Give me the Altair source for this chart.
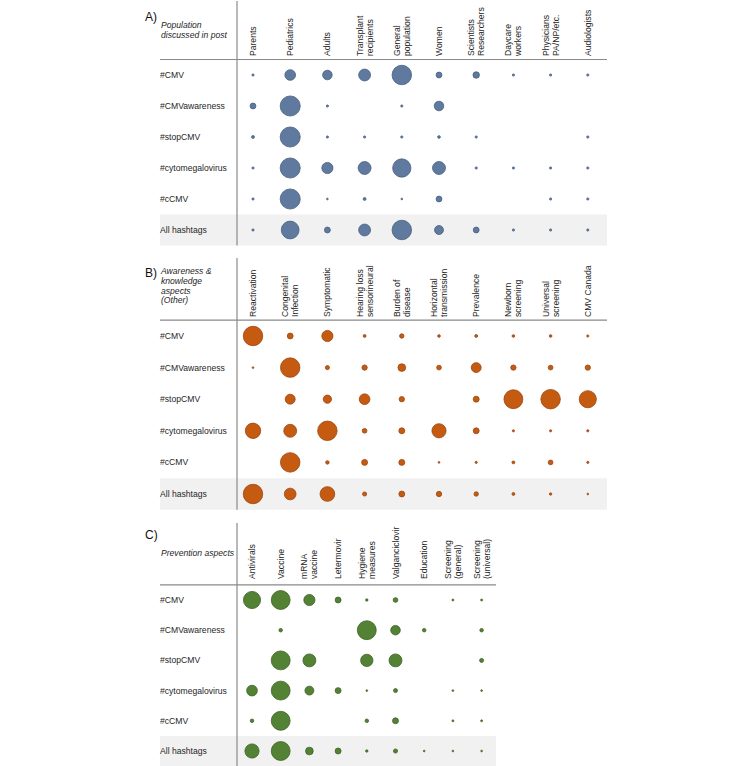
import altair as alt
import pandas as pd

# ---- data -------------------------------------------------------------
hashtags = ["#CMV", "#CMVawareness", "#stopCMV", "#cytomegalovirus", "#cCMV", "All hashtags"]

population_cols = ["Parents", "Pediatrics", "Adults", "Transplant\nrecipients",
                   "General\npopulation", "Women", "Scientists\nResearchers",
                   "Daycare\nworkers", "Physicians\nPA/NP/etc.", "Audiologists"]
population_vals = [
    [1.3, 30, 24, 37, 100, 9, 11, 1.3, 1.3, 1.3],
    [9, 106, 1.3, None, 1.3, 24, None, None, None, None],
    [2.2, 106, 1.3, 1.3, 1.3, 1.9, 1.3, None, None, 1.3],
    [1.3, 106, 33, 44, 88, 44, 1.3, 1.3, 1.3, 1.3],
    [1.3, 106, 0.8, 2.2, 0.8, 9, None, None, 1.3, 1.3],
    [1.3, 83, 9, 37, 100, 21, 9, 1.3, 1.3, 1.3],
]

awareness_cols = ["Reactivation", "Congenital\nInfection", "Symptomatic",
                  "Hearing loss\nsensorineural", "Burden of\ndisease",
                  "Horizontal\ntransmission", "Prevalence", "Newborn\nscreening",
                  "Universal\nscreening", "CMV Canada"]
awareness_vals = [
    [100, 9, 33, 2.2, 5.2, 1.9, 2.2, 1.9, 1.9, 1.3],
    [0.8, 100, 4.5, 7.4, 15.6, 5.9, 26, 7.4, 5.9, 7.4],
    [None, 26, 18, 30, 7.4, None, 9.3, 94, 100, 77],
    [62, 44, 100, 5.9, 9.3, 53, 9.3, 1.3, 1.3, 1.3],
    [None, 100, 3.3, 9.3, 9.3, 0.8, 1.3, 2.2, 5.9, 1.3],
    [100, 36, 57, 4.5, 9, 7.4, 5.2, 2.2, 1.5, 0.8],
]

prevention_cols = ["Antivirals", "Vaccine", "mRNA\nvaccine", "Letermovir",
                   "Hygiene\nmeasures", "Valganciclovir", "Education",
                   "Screening\n(general)", "Screening\n(universal)"]
prevention_vals = [
    [77, 94, 33, 9.3, 1.5, 5.9, None, 1, 1],
    [None, 3.3, None, None, 94, 24, 3.3, None, 3.3],
    [None, 94, 44, None, 40, 44, None, None, 4.2],
    [30, 94, 21, 9.3, 0.8, 4.2, None, 0.8, 0.8],
    [3.3, 94, None, None, 3.3, 9.3, None, 1, 1],
    [53, 94, 15.6, 9.3, 1.5, 4.5, 0.8, 0.8, 0.8],
]

# ---- styling ------------------------------------------------------------
FONT = "Liberation Sans"
TEXT = "#262626"
LINE = "#8a8a8a"
BAND = "#f1f1f1"
W = 470  # panel width
LH = 10  # line height of the rotated column headers


def panel(letter, title, cols, vals, fill, stroke, lay):
    cx0, cstep = lay["cx0"], lay["cstep"]
    row0, rstep, H = lay["row0"], lay["rstep"], lay["height"]
    right = lay["right"]

    xs = alt.Scale(domain=[-cx0 / cstep, (W - cx0) / cstep], nice=False, zero=False)
    ys = alt.Scale(domain=[-row0 / rstep, (H - row0) / rstep], nice=False,
                   zero=False, reverse=True)

    cells = pd.DataFrame([
        {"col": j, "row": i, "value": v}
        for i, rowvals in enumerate(vals)
        for j, v in enumerate(rowvals) if v is not None
    ])
    col_df = pd.DataFrame({"col": list(range(len(cols))), "label": cols,
                           "nlines": [c.count("\n") + 1 for c in cols]})
    row_df = pd.DataFrame({"row": list(range(len(hashtags))), "label": hashtags})
    band_df = pd.DataFrame({"y0": [len(hashtags) - 1.5], "y1": [len(hashtags) - 0.5]})
    hline_df = pd.DataFrame({"y": [-0.5]})

    band = alt.Chart(band_df).mark_rect(color=BAND).encode(
        x=alt.value(20), x2=alt.value(right),
        y=alt.Y("y0:Q", scale=ys, axis=None), y2="y1:Q")

    hline = alt.Chart(hline_df).mark_rule(color=LINE, strokeWidth=1.2).encode(
        x=alt.value(20), x2=alt.value(right),
        y=alt.Y("y:Q", scale=ys, axis=None))

    vline = alt.Chart(hline_df).mark_rule(color=LINE, strokeWidth=1.2).encode(
        x=alt.value(97), y=alt.value(lay["vtop"]),
        y2=alt.value(row0 + (len(hashtags) - 0.5) * rstep))

    bubbles = alt.Chart(cells).mark_circle(
        fill=fill, stroke=stroke, strokeWidth=0.8, opacity=1, fillOpacity=1
    ).encode(
        x=alt.X("col:Q", scale=xs, axis=None),
        y=alt.Y("row:Q", scale=ys, axis=None),
        size=alt.Size("value:Q", scale=alt.Scale(domain=[0, 100], range=[0, 380]),
                      legend=None),
    )

    # rotated column headers; two-line headers are shifted so the block is centred
    header_layers = []
    for n in (1, 2):
        header_layers.append(
            alt.Chart(col_df).transform_filter(alt.datum.nlines == n).mark_text(
                angle=270, align="left", baseline="middle", lineBreak="\n",
                lineHeight=LH, dy=-(n - 1) * LH / 2,
                font=FONT, fontSize=8.6, color=TEXT
            ).encode(
                x=alt.X("col:Q", scale=xs, axis=None),
                y=alt.value(lay["lab_bottom"]),
                text="label:N",
            )
        )

    row_labels = alt.Chart(row_df).mark_text(
        align="left", baseline="middle", font=FONT, fontSize=8.6, color=TEXT
    ).encode(
        x=alt.value(20),
        y=alt.Y("row:Q", scale=ys, axis=None),
        text="label:N",
    )

    letter_mark = alt.Chart(hline_df).mark_text(
        text=letter, align="left", baseline="middle", font=FONT, fontSize=12,
        color="#111111"
    ).encode(x=alt.value(5), y=alt.value(16))

    title_mark = alt.Chart(hline_df).mark_text(
        text=title, align="left", baseline="top", lineBreak="\n", lineHeight=9.8,
        font=FONT, fontSize=8.6, fontStyle="italic", color=TEXT
    ).encode(x=alt.value(21), y=alt.value(lay["title_top"]))

    return alt.layer(band, hline, vline, bubbles, *header_layers, row_labels,
                     letter_mark, title_mark).properties(width=W, height=H)


panel_a = panel("A)", "Population\ndiscussed in post", population_cols, population_vals,
                "#5f7a9e", "#48607f",
                dict(cx0=113, cstep=37.2, row0=74, rstep=31, height=250, vtop=0,
                     right=467, lab_bottom=55, title_top=20))
panel_b = panel("B)", "Awareness &\nknowledge\naspects\n(Other)", awareness_cols, awareness_vals,
                "#c55a11", "#9c4610",
                dict(cx0=113, cstep=37.2, row0=79, rstep=31.6, height=256, vtop=1,
                     right=467, lab_bottom=60, title_top=10))
panel_c = panel("C)", "Prevention aspects", prevention_cols, prevention_vals,
                "#548235", "#3e6326",
                dict(cx0=112, cstep=28.7, row0=81, rstep=30.2, height=248, vtop=4,
                     right=356, lab_bottom=60, title_top=30))

chart = alt.vconcat(panel_a, panel_b, panel_c, spacing=6, bounds="flush").properties(
    padding={"left": 140, "top": 0, "right": 0, "bottom": 0}
).configure_view(stroke=None)

chart.save("out.html", embed_options={"renderer": "svg", "actions": False})
